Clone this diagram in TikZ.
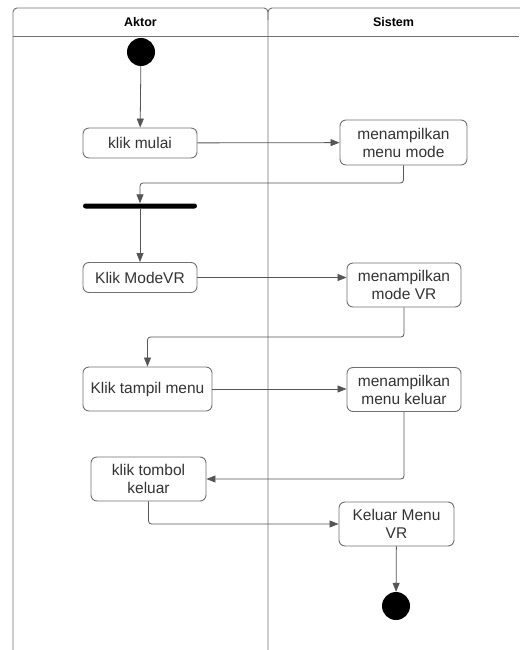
\documentclass[tikz,border=0pt]{standalone}
\usepackage{fontspec}
\setmainfont{Liberation Sans}
\usetikzlibrary{arrows.meta}
\definecolor{txt}{HTML}{333333}
\definecolor{ln}{HTML}{555555}
\definecolor{bd}{HTML}{707070}
\tikzset{
  act/.style={draw=bd, line width=0.9pt, rounded corners=6pt, fill=white, text=txt,
    font=\fontsize{15.5}{18}\selectfont, align=center, inner sep=0pt},
  flow/.style={draw=ln, line width=0.8pt, rounded corners=3pt,
    -{Triangle[length=9pt,width=7pt]}},
  lane/.style={draw=bd, line width=0.9pt},
  dot/.style={circle, fill=black, minimum size=28pt, inner sep=0pt},
  hdr/.style={font=\bfseries\fontsize{12.5}{15}\selectfont, text=black}
}
\begin{document}
\begin{tikzpicture}[x=1pt,y=-1pt]
\useasboundingbox (0,0) rectangle (519,650);
% swimlanes
\draw[lane, rounded corners=4pt] (13,650) -- (13,8) -- (268,8) -- (268,650);
\draw[lane, rounded corners=4pt] (268,20) -- (268,8) -- (530,8);
\draw[lane] (13,36) -- (519,36);
\node[hdr] (h1) at (140.5,22) {Aktor};
\node[hdr] (h2) at (393.5,22) {Sistem};
% nodes
\node[dot] (start) at (141,52) {};
\node[act, minimum width=114pt, minimum height=30pt] (a1) at (140,143) {klik mulai};
\node[act, minimum width=127pt, minimum height=45pt] (s1) at (403.5,142.5) {menampilkan\\menu mode};
\node[fill=black, minimum width=114pt, minimum height=5pt, inner sep=0pt, rounded corners=2.5pt] (bar) at (140,206) {};
\node[act, minimum width=114pt, minimum height=30pt] (a2) at (140,277.5) {Klik ModeVR};
\node[act, minimum width=114pt, minimum height=44pt] (s2) at (404,285) {menampilkan\\mode VR};
\node[act, minimum width=129pt, minimum height=44pt] (a3) at (147.5,389) {Klik tampil menu};
\node[act, minimum width=114pt, minimum height=44pt] (s3) at (404,389.5) {menampilkan\\menu keluar};
\node[act, minimum width=115pt, minimum height=44pt] (a4) at (148.5,479) {klik tombol\\keluar};
\node[act, minimum width=115pt, minimum height=44pt] (s4) at (396.5,524) {Keluar Menu\\VR};
\node[dot] (end) at (396,606) {};
% connectors
\draw[flow] (start) -- (a1);
\draw[flow] (a1) -- (s1);
\draw[flow] (s1.south) -- (403.5,183) -- (140,183) -- (bar.north);
\draw[flow] (bar) -- (a2);
\draw[flow] (a2.east) -- (s2.west |- a2.east);
\draw[flow] (s2.south) -- (404,337) -- (147.5,337) -- (a3.north);
\draw[flow] (a3.east) -- (s3.west |- a3.east);
\draw[flow] (s3.south) -- (404,479) -- (a4.east);
\draw[flow] (a4.south) -- (148.5,524) -- (s4.west);
\draw[flow] (s4) -- (end);
\end{tikzpicture}
\end{document}
